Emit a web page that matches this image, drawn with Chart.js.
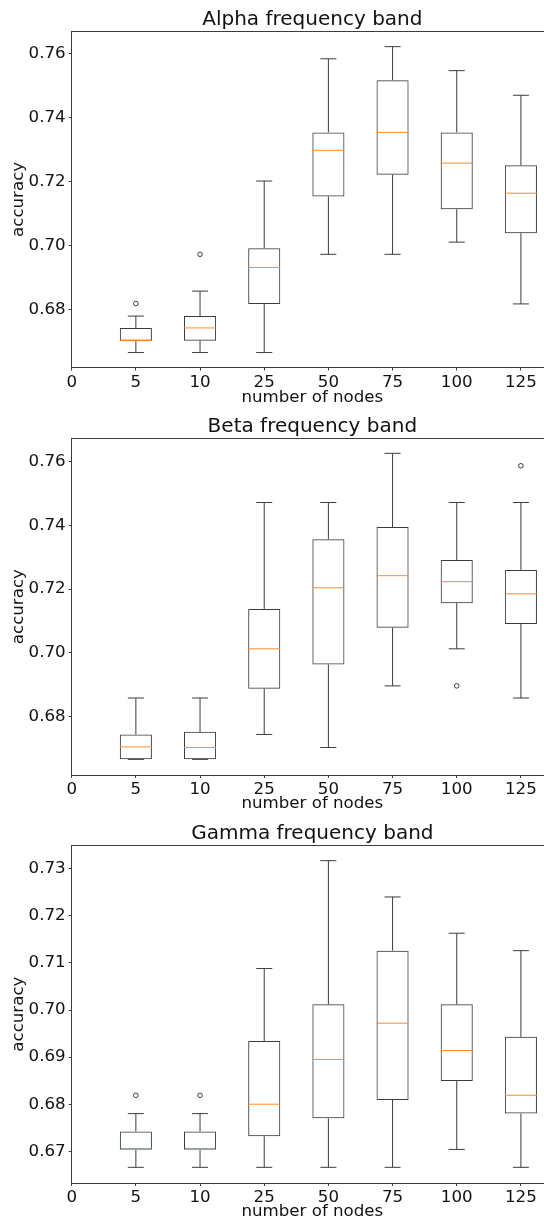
<!DOCTYPE html>
<html>
<head>
<meta charset="utf-8">
<script src="https://cdn.jsdelivr.net/npm/chart.js@4.4.1/dist/chart.umd.min.js"></script>
<style>
  html, body { margin: 0; padding: 0; background: #fff; overflow: hidden; }
  body { width: 544px; height: 1220px; position: relative; }
  canvas { position: absolute; left: 0; }
</style>
</head>
<body>
<canvas id="alphaChart" width="560" height="408" style="top:0px"></canvas>
<canvas id="betaChart" width="560" height="407" style="top:408px"></canvas>
<canvas id="gammaChart" width="560" height="407" style="top:815px"></canvas>
<script>
// tick labels on the x axis (box n sits at position n, "0" is the left edge)
const nodeLabels = ['0', '5', '10', '25', '50', '75', '100', '125'];

// Alpha band
const alphaLow = [0.6667, 0.6667, 0.6667, 0.6974, 0.6974, 0.7012, 0.6819];
const alphaQ1 = [0.6704, 0.6704, 0.6819, 0.7155, 0.7223, 0.7115, 0.7040];
const alphaMedian = [0.6704, 0.6744, 0.6933, 0.7299, 0.7355, 0.7259, 0.7165];
const alphaQ3 = [0.6744, 0.6781, 0.6993, 0.7355, 0.7518, 0.7355, 0.7252];
const alphaHigh = [0.6781, 0.6859, 0.7203, 0.7585, 0.7623, 0.7548, 0.7471];
const alphaOutliers = [[0.6820], [0.6974], [], [], [], [], []];
const alphaTicks = [0.68, 0.70, 0.72, 0.74, 0.76];

// Beta band
const betaLow = [0.6667, 0.6667, 0.6745, 0.6704, 0.6897, 0.7013, 0.6859];
const betaQ1 = [0.6667, 0.6667, 0.6888, 0.6964, 0.7079, 0.7156, 0.7091];
const betaMedian = [0.6706, 0.6704, 0.7013, 0.7204, 0.7242, 0.7223, 0.7185];
const betaQ3 = [0.6745, 0.6753, 0.7138, 0.7356, 0.7394, 0.7291, 0.7260];
const betaHigh = [0.6859, 0.6859, 0.7471, 0.7471, 0.7625, 0.7471, 0.7471];
const betaOutliers = [[], [], [], [], [], [0.6897], [0.7586]];
const betaTicks = [0.68, 0.70, 0.72, 0.74, 0.76];

// Gamma band
const gammaLow = [0.6666, 0.6666, 0.6666, 0.6666, 0.6666, 0.6704, 0.6666];
const gammaQ1 = [0.6704, 0.6704, 0.6732, 0.6770, 0.6809, 0.6849, 0.6780];
const gammaMedian = [0.6704, 0.6704, 0.6800, 0.6895, 0.6972, 0.6914, 0.6819];
const gammaQ3 = [0.6742, 0.6742, 0.6934, 0.7012, 0.7126, 0.7012, 0.6943];
const gammaHigh = [0.6780, 0.6780, 0.7088, 0.7317, 0.7240, 0.7163, 0.7126];
const gammaOutliers = [[0.6819], [0.6819], [], [], [], [], []];
const gammaTicks = [0.67, 0.68, 0.69, 0.70, 0.71, 0.72, 0.73];

const FONT = "'DejaVu Sans', sans-serif";
const INK = '#111';
const LINE = '#3c3c3c';
const ORANGE = '#ff8c2a';

// top and right spines like matplotlib
const framePlugin = {
  id: 'frame',
  afterDraw(chart) {
    const { ctx, chartArea: a } = chart;
    ctx.save();
    ctx.strokeStyle = LINE;
    ctx.lineWidth = 1;
    ctx.beginPath();
    ctx.moveTo(a.left, Math.round(a.top) + 0.5);
    ctx.lineTo(a.right, Math.round(a.top) + 0.5);
    ctx.lineTo(a.right, a.bottom);
    ctx.stroke();
    ctx.restore();
  }
};

function whiskers(low, q1, q3, high) {
  const pts = [];
  low.forEach((_, i) => {
    const x = i + 1;
    pts.push({ x, y: q3[i] }, { x, y: high[i] }, { x, y: null });
    pts.push({ x: x - 0.125, y: high[i] }, { x: x + 0.125, y: high[i] }, { x, y: null });
    pts.push({ x, y: q1[i] }, { x, y: low[i] }, { x, y: null });
    pts.push({ x: x - 0.125, y: low[i] }, { x: x + 0.125, y: low[i] }, { x, y: null });
  });
  return pts;
}

function medians(med) {
  const pts = [];
  med.forEach((m, i) => {
    pts.push({ x: i + 0.75, y: m }, { x: i + 1.25, y: m }, { x: i + 1, y: null });
  });
  return pts;
}

function fliers(outliers) {
  const pts = [];
  outliers.forEach((list, i) => list.forEach(v => pts.push({ x: i + 1, y: v })));
  return pts;
}

function makeChart(id, title, s) {
  const ctx = document.getElementById(id).getContext('2d');
  return new Chart(ctx, {
    type: 'bar',
    data: {
      datasets: [
        {
          type: 'line',
          data: medians(s.median),
          borderColor: ORANGE,
          borderWidth: 1,
          pointRadius: 0,
          stepped: true,
          spanGaps: false,
          order: 0
        },
        {
          type: 'scatter',
          data: fliers(s.outliers),
          pointRadius: 2.3,
          borderColor: LINE,
          backgroundColor: 'rgba(0,0,0,0)',
          borderWidth: 1,
          order: 1
        },
        {
          type: 'line',
          data: whiskers(s.low, s.q1, s.q3, s.high),
          borderColor: LINE,
          borderWidth: 1,
          pointRadius: 0,
          stepped: true,
          spanGaps: false,
          order: 2
        },
        {
          type: 'bar',
          data: s.q1.map((v, i) => ({ x: i + 1, y: [v, s.q3[i]] })),
          backgroundColor: 'rgba(0,0,0,0)',
          borderColor: LINE,
          borderWidth: 1,
          borderSkipped: false,
          barPercentage: 0.5,
          categoryPercentage: 1,
          order: 3
        }
      ]
    },
    options: {
      responsive: false,
      animation: false,
      events: [],
      layout: { padding: { left: 0, right: 7, top: 0, bottom: 0 } },
      plugins: {
        legend: { display: false },
        tooltip: { enabled: false },
        title: {
          display: true,
          text: title,
          fullSize: false,
          color: INK,
          font: { family: FONT, size: 20, weight: 'normal', lineHeight: 1 },
          padding: { top: s.titleTop, bottom: s.titleBottom }
        }
      },
      scales: {
        x: {
          type: 'linear',
          min: 0,
          max: 7.5,
          offset: false,
          afterBuildTicks: a => { a.ticks = nodeLabels.map((_, i) => ({ value: i })); },
          afterFit: a => { a.height = s.xHeight; },
          ticks: {
            autoSkip: false,
            maxRotation: 0,
            padding: 2,
            color: INK,
            font: { family: FONT, size: 16.67 },
            callback: (v, i) => nodeLabels[i]
          },
          grid: { display: true, drawOnChartArea: false, offset: false, tickLength: 3, color: LINE },
          border: { display: true, color: LINE },
          title: {
            display: true,
            text: 'number of nodes',
            color: INK,
            font: { family: FONT, size: 16.67, lineHeight: 1.2 },
            padding: { top: 0, bottom: s.xTitlePad }
          }
        },
        y: {
          type: 'linear',
          min: s.min,
          max: s.max,
          afterBuildTicks: a => { a.ticks = s.ticks.map(v => ({ value: v })); },
          afterFit: a => { a.width = 71.7; },
          ticks: {
            padding: 3,
            color: INK,
            font: { family: FONT, size: 16.67 },
            callback: v => v.toFixed(2)
          },
          grid: { display: true, drawOnChartArea: false, tickLength: 3, color: LINE },
          border: { display: true, color: LINE },
          title: {
            display: true,
            text: 'accuracy',
            color: INK,
            font: { family: FONT, size: 16.67, lineHeight: 1.2 },
            padding: { top: 9, bottom: 0 }
          }
        }
      }
    },
    plugins: [framePlugin]
  });
}

makeChart('alphaChart', 'Alpha frequency band', {
  low: alphaLow, q1: alphaQ1, median: alphaMedian, q3: alphaQ3, high: alphaHigh,
  outliers: alphaOutliers, ticks: alphaTicks, min: 0.66203, max: 0.76709,
  titleTop: 10, titleBottom: 1.3, xHeight: 40.5, xTitlePad: 0
});

makeChart('betaChart', 'Beta frequency band', {
  low: betaLow, q1: betaQ1, median: betaMedian, q3: betaQ3, high: betaHigh,
  outliers: betaOutliers, ticks: betaTicks, min: 0.6618, max: 0.7672,
  titleTop: 8.7, titleBottom: 1.6, xHeight: 40, xTitlePad: 1
});

makeChart('gammaChart', 'Gamma frequency band', {
  low: gammaLow, q1: gammaQ1, median: gammaMedian, q3: gammaQ3, high: gammaHigh,
  outliers: gammaOutliers, ticks: gammaTicks, min: 0.66327, max: 0.73497,
  titleTop: 9, titleBottom: 1.3, xHeight: 39, xTitlePad: 0
});
</script>
</body>
</html>
